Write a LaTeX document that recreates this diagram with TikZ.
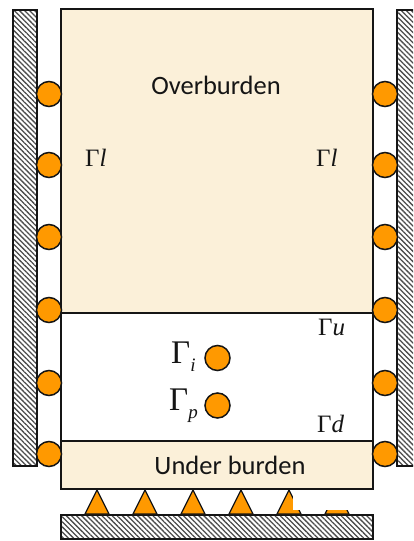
\documentclass[tikz,border=0pt]{standalone}
\usepackage{fontspec}
\setmainfont{Carlito}
\newfontfamily\gamfont{Liberation Serif}
\usetikzlibrary{patterns.meta,positioning,shapes.geometric,calc}
\definecolor{rockfill}{HTML}{FBF0D9}
\definecolor{rollerfill}{HTML}{FF9900}
\definecolor{edgeink}{HTML}{151515}
\newcommand{\subgam}[1]{\raisebox{-8.5pt}{\fontsize{19}{20}\selectfont\itshape #1}}
\begin{document}
\begin{tikzpicture}[x=1pt,y=-1pt,
    layer/.style={draw=edgeink,line width=1.6pt,minimum width=312pt,inner sep=0pt,outer sep=0pt},
    wall/.style={draw=edgeink,line width=1.3pt,inner sep=0pt,outer sep=0pt,
        pattern={Lines[angle=-45,distance=3.6pt,line width=1.3pt]},pattern color=black!70},
    roller/.style={circle,draw=edgeink,line width=1.5pt,fill=rollerfill,minimum size=25pt,inner sep=0pt,outer sep=0pt},
    support/.style={isosceles triangle,isosceles triangle apex angle=53,shape border rotate=90,draw=edgeink,line width=1.2pt,
        fill=rollerfill,minimum height=24pt,minimum width=24pt,inner sep=0pt,outer sep=0pt,isosceles triangle stretches},
    label/.style={font=\fontsize{26.5}{28}\selectfont,color=edgeink},
    gam/.style={font=\gamfont\fontsize{25}{27}\selectfont,color=edgeink,inner sep=0pt,anchor=base west},
    biggam/.style={gam,font=\gamfont\fontsize{33}{35}\selectfont}
]
\useasboundingbox (0,0) rectangle (413,541);
\clip (0,0) rectangle (413,541);
% walls
\node[wall,minimum width=24pt,minimum height=456pt,anchor=north west] (wallL) at (13,10) {};
\node[wall,minimum width=24pt,minimum height=456pt,anchor=north west] (wallR) at (397,10) {};
\node[wall,minimum width=312pt,minimum height=24pt,anchor=north west] (wallB) at (61,515) {};
% layers
\node[layer,fill=rockfill,minimum height=304pt,anchor=north west] (over) at (61,9) {};
\node[layer,fill=white,minimum height=128pt,below=0pt of over] (mid) {};
\node[layer,fill=rockfill,minimum height=48pt,below=0pt of mid] (under) {};
% rollers on the sides
\foreach \i/\y in {1/94,2/165,3/237,4/310,5/383,6/454} {
    \node[roller] (rollL\i) at (49,\y) {};
    \node[roller] (rollR\i) at (385,\y) {};
}
% supports below
\foreach \i/\x in {1/97,2/145,3/193,4/241,5/289,6/337} {
    \node[support,anchor=lower side] (sup\i) at (\x,514) {};
}
\fill[white] (293,489.8) rectangle (362,510);
% wells
\node[roller] (wellI) at (217.5,358) {};
\node[roller] (wellP) at (217.5,405.5) {};
% texts
\node[label] (overT) at (216,85) {Overburden};
\node[label] (underT) at (230,465) {Under burden};
\node[gam] (glL) at (85,166.5) {Γ\textit{l}};
\node[gam] (glR) at (316,166.5) {Γ\textit{l}};
\node[gam] (gu) at (318,335) {Γ\textit{u}};
\node[gam] (gd) at (317,432) {Γ\textit{d}};
\node[biggam] (gi) at (171,363) {Γ\subgam{i}};
\node[biggam] (gp) at (169,410) {Γ\subgam{p}};
\end{tikzpicture}
\end{document}
